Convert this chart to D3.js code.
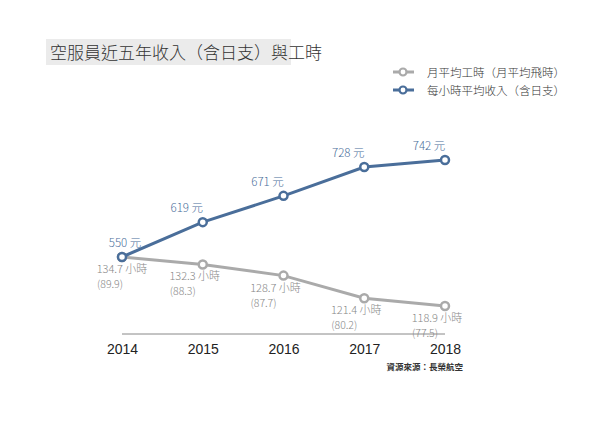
<!DOCTYPE html><html><head><meta charset="utf-8"><script src="https://cdn.jsdelivr.net/npm/d3@7"></script>
<style>body{margin:0;background:#fff;font-family:"Noto Sans CJK TC","Noto Sans",sans-serif}</style></head><body><svg id="c" width="600" height="424"></svg>
<script>
const years=["2014","2015","2016","2017","2018"];
const income=[550,619,671,728,742];
const hours=[134.7,132.3,128.7,121.4,118.9];
const flight=[89.9,88.3,87.7,80.2,77.5];
const title="空服員近五年收入（含日支）與工時";
const legendLabels=["月平均工時（月平均飛時）","每小時平均收入（含日支）"];
const source="資源來源：長榮航空";
const svg=d3.select("#c");
const x=d3.scalePoint().domain(years).range([122,445]);
const yI=d3.scaleLinear().domain([550,742]).range([257,160]);
const yH=d3.scaleLinear().domain([118.9,134.7]).range([306,257]);
const blue="#4a6e9a",gray="#aaaaaa";
svg.append("rect").attr("x",46).attr("y",39).attr("width",245).attr("height",26).attr("fill","#ebebeb");
svg.append("text").attr("x",50).attr("y",59).attr("font-size",17).attr("font-weight",300).attr("fill","#333").text(title);
[[gray,legendLabels[0],72],[blue,legendLabels[1],90]].forEach(([c,t,y])=>{
 svg.append("line").attr("x1",393).attr("x2",414).attr("y1",y).attr("y2",y).attr("stroke",c).attr("stroke-width",3);
 svg.append("circle").attr("cx",403).attr("cy",y).attr("r",3.5).attr("fill","#fff").attr("stroke",c).attr("stroke-width",2.2);
 svg.append("text").attr("x",427).attr("y",y+4.5).attr("font-size",11.5).attr("font-weight",300).attr("fill","#333").text(t);
});
svg.append("line").attr("x1",122).attr("x2",445).attr("y1",334).attr("y2",334).attr("stroke","#888").attr("stroke-width",1);
const xa=svg.append("g").attr("transform","translate(0,334)").call(d3.axisBottom(x).tickSize(0).tickPadding(10));
xa.select(".domain").remove();
xa.selectAll("text").attr("font-size",14).attr("fill","#222").attr("font-family","Liberation Sans,Arial,sans-serif");
function series(vals,y,c){
 svg.append("path").datum(vals).attr("fill","none").attr("stroke",c).attr("stroke-width",3)
  .attr("d",d3.line().x((d,i)=>x(years[i])).y(d=>y(d)));
 svg.selectAll(null).data(vals).enter().append("circle").attr("cx",(d,i)=>x(years[i])).attr("cy",d=>y(d))
  .attr("r",4).attr("fill","#fff").attr("stroke",c).attr("stroke-width",2.5);
}
series(hours,yH,gray);
series(income,yI,blue);
income.forEach((v,i)=>svg.append("text").attr("x",x(years[i])+(i?-16:3)).attr("y",yI(v)-10).attr("text-anchor","middle")
 .attr("font-size",11.5).attr("font-weight",300).attr("fill",blue).text(v+" 元"));
hours.forEach((v,i)=>{
 const cx=x(years[i])-(i?8:0);
 svg.append("text").attr("x",cx).attr("y",yH(v)+16).attr("text-anchor","middle").attr("font-size",11).attr("font-weight",300).attr("fill","#888").text(v.toFixed(1)+" 小時");
 svg.append("text").attr("x",cx-12).attr("y",yH(v)+31).attr("text-anchor","middle").attr("font-size",10.5).attr("font-weight",300).attr("fill","#888").text("("+flight[i].toFixed(1)+")");
});
svg.append("text").attr("x",463).attr("y",370).attr("text-anchor","end").attr("font-size",8.5).attr("font-weight","bold").attr("fill","#333").text(source);
</script></body></html>
